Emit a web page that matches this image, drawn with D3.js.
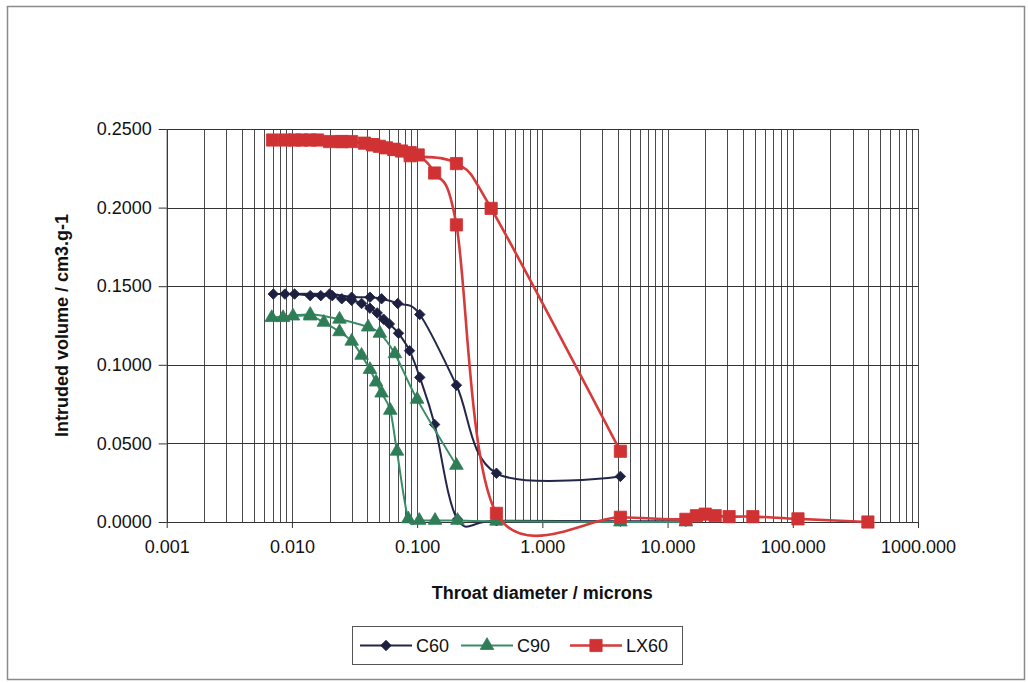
<!DOCTYPE html>
<html>
<head>
<meta charset="utf-8">
<script src="https://cdn.jsdelivr.net/npm/d3@7"></script>
<style>
body { margin: 0; background: #fff; }
text { font-family: "Liberation Sans", Arial, sans-serif; fill: #111; }
</style>
</head>
<body>
<div class="chart"></div>
<script>
var seriesNames = ["C60", "C90", "LX60"];

// intrusion (right to left) then extrusion (left to right)
var c60Diam = [14.0, 4.2, 0.43, 0.21, 0.138, 0.105, 0.087, 0.071, 0.060, 0.054, 0.048, 0.042, 0.036, 0.030, 0.025, 0.021, 0.017, 0.014, 0.0105, 0.0088, 0.0071,
               0.020, 0.030, 0.042, 0.052, 0.070, 0.105, 0.206, 0.43, 4.2];
var c60Vol  = [0.0005, 0.0005, 0.0008, 0.0017, 0.062, 0.092, 0.109, 0.120, 0.126, 0.129, 0.133, 0.136, 0.139, 0.141, 0.142, 0.144, 0.144, 0.144, 0.145, 0.145, 0.145,
               0.145, 0.143, 0.143, 0.142, 0.139, 0.132, 0.087, 0.031, 0.029];

var c90Diam = [14.0, 4.2, 0.43, 0.21, 0.139, 0.104, 0.085, 0.069, 0.061, 0.052, 0.047, 0.042, 0.036, 0.030, 0.024, 0.018, 0.014, 0.0102, 0.0085, 0.0069,
               0.014, 0.024, 0.0406, 0.0504, 0.0664, 0.100, 0.206];
var c90Vol  = [0.0, 0.0, 0.0005, 0.001, 0.001, 0.001, 0.002, 0.045, 0.071, 0.082, 0.089, 0.097, 0.106, 0.115, 0.121, 0.127, 0.131, 0.131, 0.130, 0.130,
               0.132, 0.129, 0.124, 0.120, 0.107, 0.078, 0.036];

var lx60Diam = [398, 110, 48, 31, 24, 20, 17, 14, 4.2, 0.43, 0.206, 0.138, 0.102, 0.088, 0.075, 0.066, 0.057, 0.050, 0.044, 0.038, 0.030, 0.025, 0.020, 0.016, 0.012, 0.0105, 0.0088, 0.0070,
                0.014, 0.025, 0.045, 0.065, 0.088, 0.206, 0.39, 4.2];
var lx60Vol  = [0.0, 0.002, 0.0034, 0.0034, 0.004, 0.005, 0.004, 0.0017, 0.003, 0.0055, 0.189, 0.222, 0.2335, 0.235, 0.236, 0.237, 0.238, 0.239, 0.240, 0.241, 0.242, 0.242, 0.242, 0.243, 0.243, 0.243, 0.243, 0.243,
                0.243, 0.242, 0.240, 0.237, 0.233, 0.228, 0.1995, 0.045];

var xTickValues = [0.001, 0.01, 0.1, 1, 10, 100, 1000];
var yTickValues = [0, 0.05, 0.1, 0.15, 0.2, 0.25];

var options = {
    width: 1028,
    height: 683,
    left: 166.7,
    right: 918,
    top: 129,
    bottom: 522
};

var colors = { C60: "#1d2040", C90: "#2f7d57", LX60: "#d03234" };
var lineColors = { C60: "#23264a", C90: "#3a8c66", LX60: "#d63a3a" };
var lineWidths = { C60: 2, C90: 2, LX60: 2.6 };

function zip(xs, ys) {
    return xs.map(function(x, i) { return { d: x, v: ys[i] }; });
}

var series = [
    { name: "C60", data: zip(c60Diam, c60Vol), shape: "diamond" },
    { name: "C90", data: zip(c90Diam, c90Vol), shape: "triangle" },
    { name: "LX60", data: zip(lx60Diam, lx60Vol), shape: "square" }
];

var svg = d3.select(".chart").append("svg")
    .attr("width", options.width)
    .attr("height", options.height);

// outer frame
svg.append("rect")
    .attr("x", 7.5).attr("y", 6.5)
    .attr("width", 1017).attr("height", 673)
    .attr("fill", "#fff")
    .attr("stroke", "#8a8a8a")
    .attr("stroke-width", 1.5);

var xScale = d3.scaleLog()
    .domain([0.001, 1000])
    .range([options.left, options.right]);

var yScale = d3.scaleLinear()
    .domain([0, 0.25])
    .range([options.bottom, options.top]);

// grid
svg.append("g").selectAll("line")
    .data(xScale.ticks())
    .enter().append("line")
    .attr("x1", function(d) { return Math.round(xScale(d)) + 0.5; })
    .attr("x2", function(d) { return Math.round(xScale(d)) + 0.5; })
    .attr("y1", options.top)
    .attr("y2", options.bottom)
    .attr("stroke", "#4a4a4a")
    .attr("stroke-width", 1);

svg.append("g").selectAll("line")
    .data(yTickValues)
    .enter().append("line")
    .attr("x1", options.left)
    .attr("x2", options.right)
    .attr("y1", function(d) { return Math.round(yScale(d)) + 0.5; })
    .attr("y2", function(d) { return Math.round(yScale(d)) + 0.5; })
    .attr("stroke", "#333")
    .attr("stroke-width", 1);

var xAxis = d3.axisBottom(xScale)
    .tickValues(xTickValues)
    .tickFormat(d3.format(".3f"))
    .tickSizeInner(6)
    .tickSizeOuter(0)
    .tickPadding(12);

var yAxis = d3.axisLeft(yScale)
    .tickValues(yTickValues)
    .tickFormat(d3.format(".4f"))
    .tickSizeInner(8)
    .tickSizeOuter(0)
    .tickPadding(7);

svg.append("g")
    .attr("class", "x axis")
    .attr("transform", "translate(0," + options.bottom + ")")
    .call(xAxis);

svg.append("g")
    .attr("class", "y axis")
    .attr("transform", "translate(" + options.left + ",0)")
    .call(yAxis);

svg.selectAll(".axis text")
    .attr("font-family", "Liberation Sans, Arial, sans-serif")
    .attr("font-size", "18px")
    .attr("fill", "#111");
svg.selectAll(".axis path, .axis line")
    .attr("stroke", "#333");

svg.append("text")
    .attr("x", (options.left + options.right) / 2)
    .attr("y", 599)
    .attr("text-anchor", "middle")
    .attr("font-size", "18px")
    .attr("font-weight", "bold")
    .text("Throat diameter / microns");

svg.append("text")
    .attr("transform", "translate(68," + ((options.top + options.bottom) / 2) + ") rotate(-90)")
    .attr("text-anchor", "middle")
    .attr("font-size", "18px")
    .attr("font-weight", "bold")
    .text("Intruded volume / cm3.g-1");

var line = d3.line()
    .x(function(d) { return xScale(d.d); })
    .y(function(d) { return yScale(d.v); })
    .curve(d3.curveCatmullRom.alpha(0));

var symbols = {
    diamond: d3.symbol().type(d3.symbolSquare).size(55),
    triangle: d3.symbol().type(d3.symbolTriangle).size(80),
    square: d3.symbol().type(d3.symbolSquare).size(150)
};

function drawMarker(sel, shape, name, x, y) {
    sel.append("path")
        .attr("d", symbols[shape]())
        .attr("transform", "translate(" + x + "," + y + ")" + (shape === "diamond" ? " rotate(45)" : ""))
        .attr("fill", colors[name])
        .attr("stroke", colors[name])
        .attr("stroke-width", 0.8);
}

series.forEach(function(s) {
    var g = svg.append("g");
    g.append("path")
        .datum(s.data)
        .attr("d", line)
        .attr("fill", "none")
        .attr("stroke", lineColors[s.name])
        .attr("stroke-width", lineWidths[s.name]);
    s.data.forEach(function(p) {
        drawMarker(g, s.shape, s.name, xScale(p.d), yScale(p.v));
    });
});

// legend
var legend = svg.append("g");
legend.append("rect")
    .attr("x", 352.5).attr("y", 626.5)
    .attr("width", 330).attr("height", 38)
    .attr("fill", "#fff")
    .attr("stroke", "#555")
    .attr("stroke-width", 1);

var legendX = [360, 461, 570];
series.forEach(function(s, i) {
    var x0 = legendX[i];
    legend.append("line")
        .attr("x1", x0).attr("x2", x0 + 52)
        .attr("y1", 645.5).attr("y2", 645.5)
        .attr("stroke", lineColors[s.name])
        .attr("stroke-width", lineWidths[s.name]);
    drawMarker(legend, s.shape, s.name, x0 + 26, 645.5);
    legend.append("text")
        .attr("x", x0 + 56)
        .attr("y", 652)
        .attr("font-size", "18px")
        .text(seriesNames[i]);
});
</script>
</body>
</html>
